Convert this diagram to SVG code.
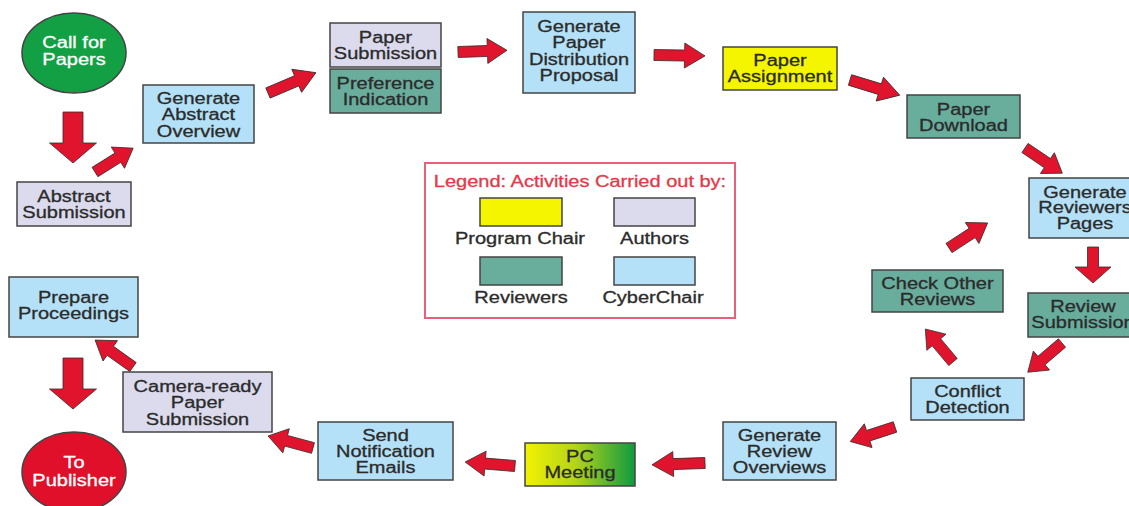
<svg xmlns="http://www.w3.org/2000/svg" xmlns:xlink="http://www.w3.org/1999/xlink" width="1129" height="506" viewBox="0 0 1129 506">
  <style>
    .box { stroke: #444; stroke-width: 1.5; }
    .cyber { fill: #b4e1f7; }
    .author { fill: #dcdaed; }
    .reviewer { fill: #69ad9d; }
    .chair { fill: #f5f500; }
    .t { font-family: "Liberation Sans", Arial, sans-serif; font-size: 16px; fill: #2b2b2b; stroke: #2b2b2b; stroke-width: 0.3; text-anchor: middle; }
    .w { fill: #ffffff; stroke: #ffffff; }
    .legend-title { fill: #e23a4a; stroke: #e23a4a; }
    .arrow { fill: #e0142c; stroke: #3a2a2a; stroke-width: 0.8; stroke-linejoin: round; }
  </style>
  <defs>
    <!-- block arrow, tail at origin, pointing +x, 50 long -->
    <path id="arr" d="M0,-5.5 L30,-5.5 L30,-12.5 L50,0 L30,12.5 L30,5.5 L0,5.5 Z"/>
    <!-- big downward block arrow, tail at origin -->
    <path id="bigarr" d="M-10,0 L10,0 L10,31 L23.5,31 L0,51 L-23.5,31 L-10,31 Z"/>
    <linearGradient id="pcGrad" x1="0" y1="0" x2="1" y2="0">
      <stop offset="0" stop-color="#f2f200"/>
      <stop offset="0.45" stop-color="#b5d51a"/>
      <stop offset="1" stop-color="#0f9a40"/>
    </linearGradient>
  </defs>

  <rect width="1129" height="506" fill="#ffffff"/>

  <!-- connectors -->
  <g id="connectors" class="arrow">
    <use href="#bigarr" transform="translate(73,112)"/>
    <use href="#arr" transform="translate(95,172) rotate(-32) scale(0.9,1)"/>
    <use href="#arr" transform="translate(268,93) rotate(-23) scale(1.04,1)"/>
    <use href="#arr" transform="translate(458,52) rotate(-2) scale(0.98,1)"/>
    <use href="#arr" transform="translate(654,55) rotate(1) scale(1.02,1)"/>
    <use href="#arr" transform="translate(850,80) rotate(17) scale(1.04,1)"/>
    <use href="#arr" transform="translate(1025,148) rotate(34) scale(0.9,1)"/>
    <path d="M1087.5,247 L1098.5,247 L1098.5,267 L1111,267 L1093,283 L1075,267 L1087.5,267 Z"/>
    <use href="#arr" transform="translate(1062,343) rotate(139.5) scale(0.9,1)"/>
    <use href="#arr" transform="translate(953,362) rotate(-130) scale(0.86,1)"/>
    <use href="#arr" transform="translate(949,248) rotate(-33) scale(0.92,1)"/>
    <use href="#arr" transform="translate(895,427) rotate(162) scale(0.94,1)"/>
    <use href="#arr" transform="translate(705,463) rotate(178) scale(1.06,1)"/>
    <use href="#arr" transform="translate(515,466) rotate(184.6) scale(1,1)"/>
    <use href="#arr" transform="translate(313,448) rotate(-165) scale(0.93,1)"/>
    <use href="#arr" transform="translate(133,367) rotate(-144.6) scale(0.93,1)"/>
    <use href="#bigarr" transform="translate(73,358)"/>
  </g>

  <!-- nodes -->
  <g id="call-for-papers">
    <ellipse cx="74" cy="53" rx="52" ry="40" fill="#13a044" class="box"/>
    <text class="t w" transform="translate(74,48) scale(1.25,1)"><tspan x="0" y="0">Call for</tspan><tspan x="0" y="17">Papers</tspan></text>
  </g>

  <g id="abstract-submission">
    <rect x="17" y="182" width="114" height="44" class="box author"/>
    <text class="t" transform="translate(74,202) scale(1.25,1)"><tspan x="0" y="0">Abstract</tspan><tspan x="0" y="16.5">Submission</tspan></text>
  </g>

  <g id="generate-abstract-overview">
    <rect x="143" y="85" width="111" height="58" class="box cyber"/>
    <text class="t" transform="translate(198.5,104) scale(1.25,1)"><tspan x="0" y="0">Generate</tspan><tspan x="0" y="16.5">Abstract</tspan><tspan x="0" y="33">Overview</tspan></text>
  </g>

  <g id="paper-submission">
    <rect x="330" y="23" width="111" height="44" class="box author"/>
    <text class="t" transform="translate(385.5,43) scale(1.25,1)"><tspan x="0" y="0">Paper</tspan><tspan x="0" y="16.5">Submission</tspan></text>
  </g>

  <g id="preference-indication">
    <rect x="330" y="69" width="111" height="44" class="box reviewer"/>
    <text class="t" transform="translate(385.5,89) scale(1.25,1)"><tspan x="0" y="0">Preference</tspan><tspan x="0" y="16.5">Indication</tspan></text>
  </g>

  <g id="generate-distribution-proposal">
    <rect x="523" y="12" width="112" height="81" class="box cyber"/>
    <text class="t" transform="translate(579,32) scale(1.25,1)"><tspan x="0" y="0">Generate</tspan><tspan x="0" y="16.5">Paper</tspan><tspan x="0" y="33">Distribution</tspan><tspan x="0" y="49.5">Proposal</tspan></text>
  </g>

  <g id="paper-assignment">
    <rect x="723" y="47" width="114" height="43" class="box chair"/>
    <text class="t" transform="translate(780,65.5) scale(1.25,1)"><tspan x="0" y="0">Paper</tspan><tspan x="0" y="16.5">Assignment</tspan></text>
  </g>

  <g id="paper-download">
    <rect x="907" y="95" width="113" height="43" class="box reviewer"/>
    <text class="t" transform="translate(963.5,115) scale(1.25,1)"><tspan x="0" y="0">Paper</tspan><tspan x="0" y="16.5">Download</tspan></text>
  </g>

  <g id="generate-reviewers-pages">
    <rect x="1029" y="178" width="125" height="60" class="box cyber"/>
    <text class="t" transform="translate(1085,197.5) scale(1.25,1)"><tspan x="0" y="0">Generate</tspan><tspan x="0" y="16">Reviewers</tspan><tspan x="0" y="32">Pages</tspan></text>
  </g>

  <g id="review-submission">
    <rect x="1028" y="293" width="125" height="44" class="box reviewer"/>
    <text class="t" transform="translate(1083,312) scale(1.25,1)"><tspan x="0" y="0">Review</tspan><tspan x="0" y="16.5">Submission</tspan></text>
  </g>

  <g id="check-other-reviews">
    <rect x="872" y="270" width="131" height="42" class="box reviewer"/>
    <text class="t" transform="translate(937.5,289) scale(1.25,1)"><tspan x="0" y="0">Check Other</tspan><tspan x="0" y="16.5">Reviews</tspan></text>
  </g>

  <g id="conflict-detection">
    <rect x="911" y="378" width="113" height="42" class="box cyber"/>
    <text class="t" transform="translate(967.5,397) scale(1.25,1)"><tspan x="0" y="0">Conflict</tspan><tspan x="0" y="16.5">Detection</tspan></text>
  </g>

  <g id="generate-review-overviews">
    <rect x="723" y="422" width="113" height="58" class="box cyber"/>
    <text class="t" transform="translate(779.5,440.5) scale(1.25,1)"><tspan x="0" y="0">Generate</tspan><tspan x="0" y="16.5">Review</tspan><tspan x="0" y="33">Overviews</tspan></text>
  </g>

  <g id="pc-meeting">
    <rect x="525" y="443" width="110" height="43" class="box" fill="url(#pcGrad)"/>
    <text class="t" transform="translate(580,462) scale(1.25,1)"><tspan x="0" y="0">PC</tspan><tspan x="0" y="16.5">Meeting</tspan></text>
  </g>

  <g id="send-notification-emails">
    <rect x="318" y="422" width="135" height="58" class="box cyber"/>
    <text class="t" transform="translate(385.5,440.5) scale(1.25,1)"><tspan x="0" y="0">Send</tspan><tspan x="0" y="16.5">Notification</tspan><tspan x="0" y="33">Emails</tspan></text>
  </g>

  <g id="camera-ready-submission">
    <rect x="123" y="372" width="149" height="60" class="box author"/>
    <text class="t" transform="translate(197.5,392) scale(1.25,1)"><tspan x="0" y="0">Camera-ready</tspan><tspan x="0" y="16.5">Paper</tspan><tspan x="0" y="33">Submission</tspan></text>
  </g>

  <g id="prepare-proceedings">
    <rect x="9" y="277" width="129" height="60" class="box cyber"/>
    <text class="t" transform="translate(73.5,302.5) scale(1.25,1)"><tspan x="0" y="0">Prepare</tspan><tspan x="0" y="16.5">Proceedings</tspan></text>
  </g>

  <g id="to-publisher">
    <ellipse cx="74" cy="472" rx="52" ry="40" fill="#e0102a" class="box"/>
    <text class="t w" transform="translate(74,468) scale(1.25,1)"><tspan x="0" y="0">To</tspan><tspan x="0" y="18">Publisher</tspan></text>
  </g>

  <!-- legend -->
  <g id="legend">
    <rect x="425" y="163" width="310" height="155" fill="#ffffff" stroke="#e8607a" stroke-width="2"/>
    <text class="t legend-title" transform="translate(580,187) scale(1.25,1)">Legend: Activities Carried out by:</text>
    <rect x="480" y="198" width="82" height="28" class="box chair"/>
    <rect x="614" y="198" width="81" height="28" class="box author"/>
    <rect x="480" y="257" width="82" height="28" class="box reviewer"/>
    <rect x="614" y="257" width="81" height="28" class="box cyber"/>
    <text class="t" transform="translate(520,244) scale(1.25,1)">Program Chair</text>
    <text class="t" transform="translate(654.5,244) scale(1.25,1)">Authors</text>
    <text class="t" transform="translate(521,303) scale(1.25,1)">Reviewers</text>
    <text class="t" transform="translate(653,303) scale(1.25,1)">CyberChair</text>
  </g>
</svg>
